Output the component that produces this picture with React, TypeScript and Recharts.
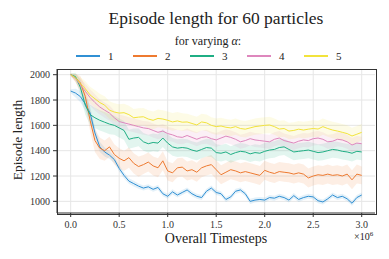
import { ComposedChart, Line, Area, XAxis, YAxis, CartesianGrid } from 'recharts';

// timesteps in units of 1e6
const steps = [
    0.0, 0.05, 0.1, 0.15, 0.2, 0.25, 0.3, 0.35, 0.4, 0.45,
    0.5, 0.55, 0.6, 0.65, 0.7, 0.75, 0.8, 0.85, 0.9, 0.95,
    1.0, 1.05, 1.1, 1.15, 1.2, 1.25, 1.3, 1.35, 1.4, 1.45,
    1.5, 1.55, 1.6, 1.65, 1.7, 1.75, 1.8, 1.85, 1.9, 1.95,
    2.0, 2.05, 2.1, 2.15, 2.2, 2.25, 2.3, 2.35, 2.4, 2.45,
    2.5, 2.55, 2.6, 2.65, 2.7, 2.75, 2.8, 2.85, 2.9, 2.95, 3.0,
];

const alpha1 = [
    1871, 1855, 1827, 1770, 1698, 1540, 1430, 1390, 1365, 1330,
    1260, 1205, 1160, 1140, 1120, 1105, 1115, 1095, 1110, 1060,
    1040, 1075, 1050, 1070, 1090, 1060, 1040, 1030, 1080, 1105,
    1070, 1060, 1015, 1035, 1080, 1090, 1060, 1000, 1010, 1015,
    1010, 1030, 1025, 1040, 1030, 1010, 1045, 1015, 1030, 1040,
    1035, 1005, 995, 1020, 1050, 1030, 1040, 1020, 985, 1030, 1050,
];
const alpha2 = [
    2000, 1975, 1935, 1830, 1640, 1480, 1420, 1400, 1430, 1370,
    1340, 1320, 1345, 1300, 1275, 1290, 1310, 1280, 1265, 1320,
    1240, 1225, 1265, 1270, 1240, 1250, 1230, 1265, 1280, 1290,
    1250, 1210, 1230, 1250, 1240, 1225, 1235, 1225, 1215, 1205,
    1245, 1230, 1220, 1235, 1230, 1225, 1215, 1225, 1215, 1185,
    1200, 1210, 1205, 1215, 1205, 1210, 1200, 1215, 1170, 1215, 1205,
];
const alpha3 = [
    2000, 1985, 1900, 1760, 1685, 1660, 1640, 1625, 1610, 1600,
    1580, 1560, 1490, 1500, 1505, 1470, 1455, 1465, 1460, 1500,
    1460, 1430, 1420, 1425, 1420, 1405, 1395, 1410, 1425, 1420,
    1385, 1380, 1390, 1370, 1385, 1395, 1390, 1375, 1385, 1380,
    1395, 1405, 1410, 1425, 1430, 1410, 1390, 1395, 1400, 1405,
    1395, 1385, 1390, 1400, 1410, 1405, 1395, 1390, 1380, 1395, 1390,
];
const alpha4 = [
    2000, 1970, 1920, 1870, 1820, 1780, 1745, 1720, 1697, 1660,
    1630, 1620, 1610, 1600, 1590, 1580, 1575, 1560, 1545, 1555,
    1535, 1525, 1510, 1505, 1520, 1505, 1490, 1505, 1510, 1495,
    1485, 1500, 1515, 1505, 1490, 1470, 1480, 1495, 1485, 1480,
    1475, 1470, 1490, 1500, 1480, 1470, 1460, 1475, 1485, 1480,
    1495, 1500, 1490, 1470, 1475, 1490, 1485, 1470, 1445, 1460, 1455,
];
const alpha5 = [
    2000, 1975, 1930, 1890, 1840, 1810, 1780, 1760, 1720, 1705,
    1697, 1700, 1685, 1660, 1665, 1668, 1650, 1640, 1655, 1650,
    1640, 1627, 1635, 1625, 1627, 1615, 1603, 1627, 1620, 1600,
    1590, 1595, 1585, 1580, 1590, 1575, 1570, 1580, 1590, 1595,
    1600, 1603, 1590, 1571, 1575, 1555, 1560, 1570, 1563, 1570,
    1575, 1571, 1590, 1575, 1563, 1555, 1545, 1535, 1516, 1530, 1545,
];

// half width of the shaded spread around each line
const spread1 = [
    15, 35, 45, 50, 50, 45, 40, 35, 30, 28,
    25, 25, 22, 22, 20, 20, 20, 20, 20, 20,
    20, 20, 20, 20, 20, 20, 20, 20, 20, 20,
    20, 20, 20, 20, 20, 20, 20, 20, 20, 20,
    20, 20, 20, 20, 20, 20, 20, 20, 20, 20,
    20, 20, 20, 20, 20, 20, 20, 20, 20, 20, 20,
];
const spread2 = [
    10, 30, 55, 75, 85, 90, 85, 80, 80, 80,
    80, 80, 80, 80, 80, 75, 75, 75, 75, 75,
    75, 75, 75, 75, 75, 75, 75, 75, 75, 75,
    75, 75, 75, 75, 75, 75, 75, 75, 75, 75,
    75, 75, 75, 75, 75, 75, 75, 75, 75, 75,
    75, 75, 75, 75, 75, 75, 75, 75, 75, 75, 70,
];
const spread3 = [
    10, 30, 60, 75, 80, 80, 80, 80, 80, 75,
    75, 75, 75, 75, 70, 70, 70, 70, 70, 70,
    70, 70, 70, 70, 70, 70, 70, 70, 70, 70,
    65, 65, 65, 65, 65, 65, 65, 65, 65, 65,
    65, 65, 65, 65, 65, 65, 65, 65, 65, 65,
    65, 65, 65, 65, 65, 65, 65, 65, 65, 65, 65,
];
const spread4 = [
    10, 30, 50, 60, 65, 65, 60, 60, 60, 55,
    55, 55, 55, 55, 55, 55, 55, 55, 55, 55,
    55, 55, 55, 55, 55, 55, 55, 55, 55, 55,
    55, 55, 55, 55, 55, 55, 55, 55, 55, 55,
    55, 55, 55, 55, 55, 55, 55, 55, 55, 55,
    55, 55, 55, 55, 55, 55, 55, 55, 55, 55, 55,
];
const spread5 = [
    10, 30, 50, 60, 65, 70, 70, 70, 70, 70,
    70, 70, 70, 70, 70, 70, 70, 70, 70, 70,
    70, 70, 70, 70, 65, 65, 65, 65, 65, 65,
    65, 65, 65, 65, 65, 65, 65, 65, 65, 65,
    65, 65, 65, 65, 65, 65, 65, 65, 65, 65,
    65, 65, 65, 65, 65, 65, 65, 65, 65, 65, 65,
];

const xTicks = [0, 0.5, 1.0, 1.5, 2.0, 2.5, 3.0];
const yTicks = [1000, 1200, 1400, 1600, 1800, 2000];

const SERIES = [
    { key: 'a1', label: '1', values: alpha1, spread: spread1, color: '#3090d4' },
    { key: 'a2', label: '2', values: alpha2, spread: spread2, color: '#ee7a30' },
    { key: 'a3', label: '3', values: alpha3, spread: spread3, color: '#1fae84' },
    { key: 'a4', label: '4', values: alpha4, spread: spread4, color: '#de87bd' },
    { key: 'a5', label: '5', values: alpha5, spread: spread5, color: '#f2e33c' },
];

const data = steps.map((x, i) => {
    const row: any = { x };
    SERIES.forEach((s) => {
        row[s.key] = s.values[i];
        row[s.key + 'band'] = [s.values[i] - s.spread[i], s.values[i] + s.spread[i]];
    });
    return row;
});

const FONT = '"Liberation Serif", "DejaVu Serif", serif';
const tickStyle = { fontFamily: FONT, fontSize: 10, fill: '#333' };

export default function App() {
    return (
        <div style={{ position: 'absolute', left: 0, top: 0, width: 389, height: 259, background: '#fff', fontFamily: FONT, color: '#222' }}>
            <div style={{ position: 'absolute', left: 0, width: 432, top: 8, textAlign: 'center', fontSize: 17.5 }}>
                Episode length for 60 particles
            </div>
            <div style={{ position: 'absolute', left: 0, width: 416, top: 34, textAlign: 'center', fontSize: 12 }}>
                for varying <i>α</i>:
            </div>

            {/* legend */}
            {SERIES.map((s, i) => (
                <div key={s.key} style={{ position: 'absolute', left: 76 + i * 57, top: 49, height: 14, display: 'flex', alignItems: 'center' }}>
                    <div style={{ width: 24, height: 2, background: s.color }} />
                    <span style={{ marginLeft: 8, fontSize: 11 }}>{s.label}</span>
                </div>
            ))}

            <ComposedChart width={389} height={259} data={data} margin={{ top: 69, right: 14, bottom: 0, left: 0 }} style={{ position: 'absolute', left: 0, top: 0 }}>
                <CartesianGrid stroke="#e6e6e6" strokeWidth={1} horizontalValues={yTicks} verticalValues={xTicks} />
                <XAxis
                    dataKey="x"
                    type="number"
                    domain={[-0.141, 3.137]}
                    ticks={xTicks}
                    tickFormatter={(v: number) => v.toFixed(1)}
                    allowDataOverflow
                    height={46}
                    tickSize={4}
                    tickMargin={4}
                    stroke="#333"
                    tick={tickStyle}
                />
                <YAxis
                    type="number"
                    domain={[908, 2045]}
                    ticks={yTicks}
                    allowDataOverflow
                    width={57}
                    tickSize={4}
                    tickMargin={3}
                    stroke="#333"
                    tick={tickStyle}
                />
                {SERIES.map((s) => (
                    <Area
                        key={s.key + 'band'}
                        dataKey={s.key + 'band'}
                        type="linear"
                        stroke="none"
                        fill={s.color}
                        fillOpacity={0.13}
                        isAnimationActive={false}
                        activeDot={false}
                    />
                ))}
                {SERIES.map((s) => (
                    <Line
                        key={s.key}
                        dataKey={s.key}
                        type="linear"
                        stroke={s.color}
                        strokeWidth={1}
                        dot={false}
                        activeDot={false}
                        isAnimationActive={false}
                    />
                ))}
            </ComposedChart>

            {/* frame round the plot */}
            <div style={{ position: 'absolute', left: 56.5, top: 68.5, width: 318, height: 144, border: '1.2px solid #333', pointerEvents: 'none' }} />

            <div style={{ position: 'absolute', left: 0, width: 432, top: 231, textAlign: 'center', fontSize: 14 }}>
                Overall Timesteps
            </div>
            <div style={{ position: 'absolute', left: 354, top: 230, fontSize: 10, whiteSpace: 'nowrap' }}>
                ×10<sup style={{ fontSize: 7 }}>6</sup>
            </div>
            <div style={{ position: 'absolute', left: 18, top: 140, transform: 'translate(-50%, -50%) rotate(-90deg)', whiteSpace: 'nowrap', fontSize: 13.5 }}>
                Episode length
            </div>
        </div>
    );
}
